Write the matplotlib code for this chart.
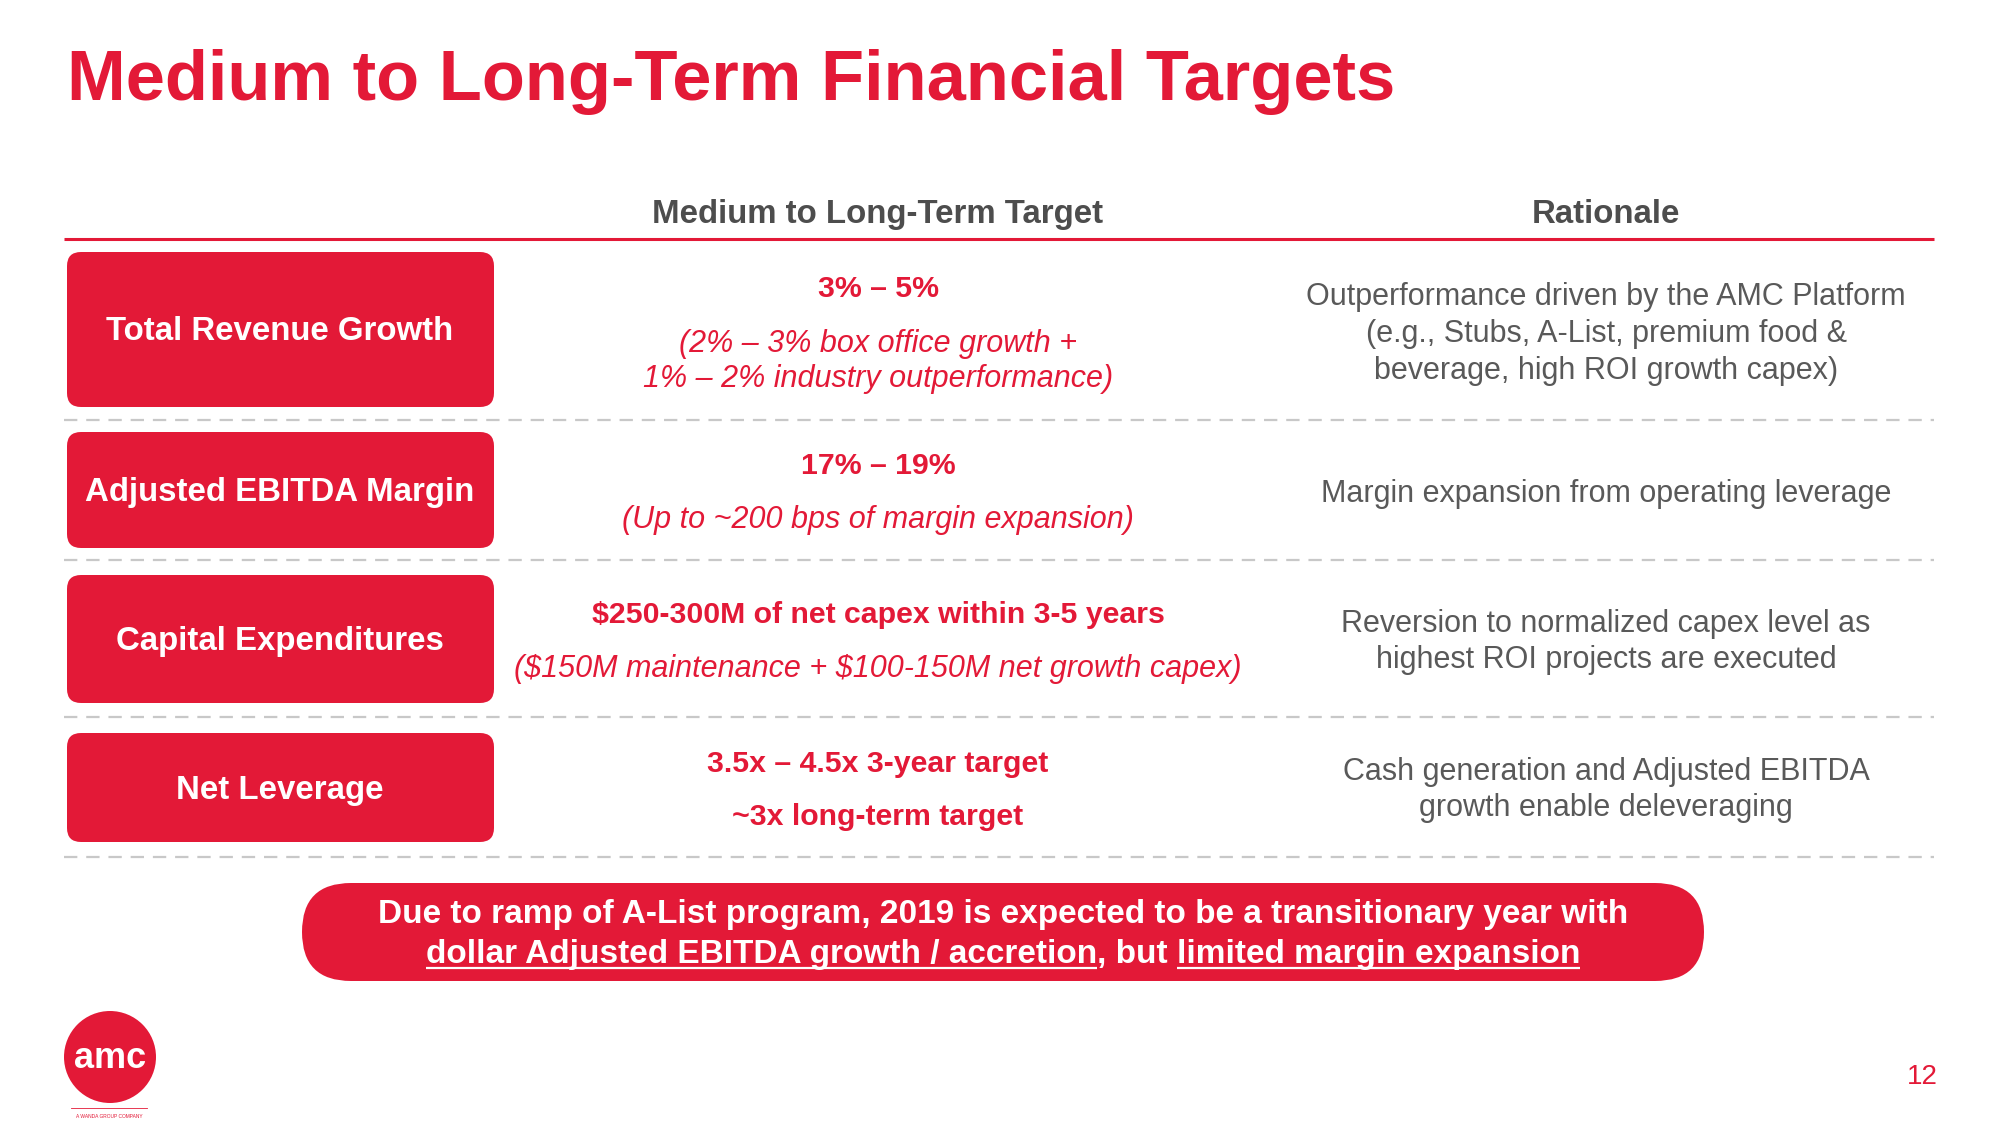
import matplotlib.pyplot as plt
from matplotlib.patches import FancyBboxPatch, Circle

# slide texts
title = "Medium to Long-Term Financial Targets"
col_heads = ["Medium to Long-Term Target", "Rationale"]
categories = ["Total Revenue Growth", "Adjusted EBITDA Margin",
              "Capital Expenditures", "Net Leverage"]
targets = [
    [("3% – 5%", "bold"),
     ("(2% – 3% box office growth +", "italic"),
     ("1% – 2% industry outperformance)", "italic")],
    [("17% – 19%", "bold"),
     ("(Up to ~200 bps of margin expansion)", "italic")],
    [("$250-300M of net capex within 3-5 years", "bold"),
     ("($150M maintenance + $100-150M net growth capex)", "italic")],
    [("3.5x – 4.5x 3-year target", "bold"),
     ("~3x long-term target", "bold")],
]
rationale = [
    ["Outperformance driven by the AMC Platform",
     "(e.g., Stubs, A-List, premium food &",
     "beverage, high ROI growth capex)"],
    ["Margin expansion from operating leverage"],
    ["Reversion to normalized capex level as",
     "highest ROI projects are executed"],
    ["Cash generation and Adjusted EBITDA",
     "growth enable deleveraging"],
]
note_line1 = "Due to ramp of A-List program, 2019 is expected to be a transitionary year with"
note_line2 = [("dollar Adjusted EBITDA growth / accretion", True),
              (", but ", False),
              ("limited margin expansion", True)]
page_no = "12"

# layout (pixel coordinates, y down)
box_top = [252, 432, 575, 733]
box_bot = [407, 548, 703, 842]
target_y = [[287, 342, 377], [464, 518], [613, 667], [762, 815]]
rationale_y = [[295, 332, 369], [492], [622, 658], [770, 806]]
dash_y = [420, 560, 717, 857]

RED = "#e31937"
GRAY = "#595959"

plt.rcParams["font.family"] = ["Liberation Sans", "DejaVu Sans"]
plt.rcParams["text.parse_math"] = False

fig = plt.figure(figsize=(20, 11.25), dpi=100)
ax = fig.add_axes([0, 0, 1, 1])
ax.set_xlim(0, 2000)
ax.set_ylim(1125, 0)
ax.axis("off")

# title
ax.text(67, 100, title, fontsize=50.8, fontweight="bold", color=RED, va="baseline", ha="left")

# column headers + red rule
ax.text(878, 223, col_heads[0], fontsize=23.8, fontweight="bold", color="#4d4d4d", ha="center", va="baseline")
ax.text(1606, 223, col_heads[1], fontsize=23.8, fontweight="bold", color="#4d4d4d", ha="center", va="baseline")
ax.plot([64, 1934], [239, 239], color=RED, lw=2.2, solid_capstyle="butt")

# rows
for i, cat in enumerate(categories):
    box = FancyBboxPatch((67, box_top[i]), 427, box_bot[i] - box_top[i],
                         boxstyle="round,pad=0,rounding_size=14", fc=RED, ec="none")
    ax.add_patch(box)
    yc = (box_top[i] + box_bot[i]) / 2
    ax.text(280, yc + 11, cat, fontsize=23.8, fontweight="bold", color="white", ha="center", va="baseline")

    for (txt, kind), y in zip(targets[i], target_y[i]):
        if kind == "bold":
            ax.text(878, y + 10, txt, fontsize=21.8, fontweight="bold", color=RED, ha="center", va="baseline")
        else:
            ax.text(878, y + 10, txt, fontsize=22, fontstyle="italic", color=RED, ha="center", va="baseline")

    for txt, y in zip(rationale[i], rationale_y[i]):
        ax.text(1606, y + 10, txt, fontsize=22, color=GRAY, ha="center", va="baseline")

    ax.plot([64, 1934], [dash_y[i], dash_y[i]], color="#c8c8c8", lw=1.6, dashes=(6, 4))

# bottom note
pill = FancyBboxPatch((302, 883), 1402, 98, boxstyle="round,pad=0,rounding_size=49", fc=RED, ec="none")
ax.add_patch(pill)
ax.text(1003, 923, note_line1, fontsize=24, fontweight="bold", color="white", ha="center", va="baseline")

r = fig.canvas.get_renderer()
pieces = []
for txt, ul in note_line2:
    t = ax.text(0, 963, txt, fontsize=24, fontweight="bold", color="white", ha="left", va="baseline")
    w = t.get_window_extent(renderer=r).width
    pieces.append((t, w, ul))
total = sum(p[1] for p in pieces)
x = 1003 - total / 2
for t, w, ul in pieces:
    t.set_x(x)
    if ul:
        ax.plot([x, x + w], [968, 968], color="white", lw=1.6, solid_capstyle="butt")
    x += w

# logo
ax.add_patch(Circle((110, 1057), 46, fc=RED, ec="none"))
ax.text(110, 1058, "amc", fontsize=26, fontweight="bold", color="white", ha="center", va="center")
ax.plot([71, 147], [1108, 1108], color=RED, lw=0.6)
ax.text(109, 1116, "A WANDA GROUP COMPANY", fontsize=3.5, color=RED, ha="center", va="center")

# page number
ax.text(1938, 1084, page_no, fontsize=20, color=RED, ha="right", va="baseline")

fig.savefig("out.png", dpi=100)
